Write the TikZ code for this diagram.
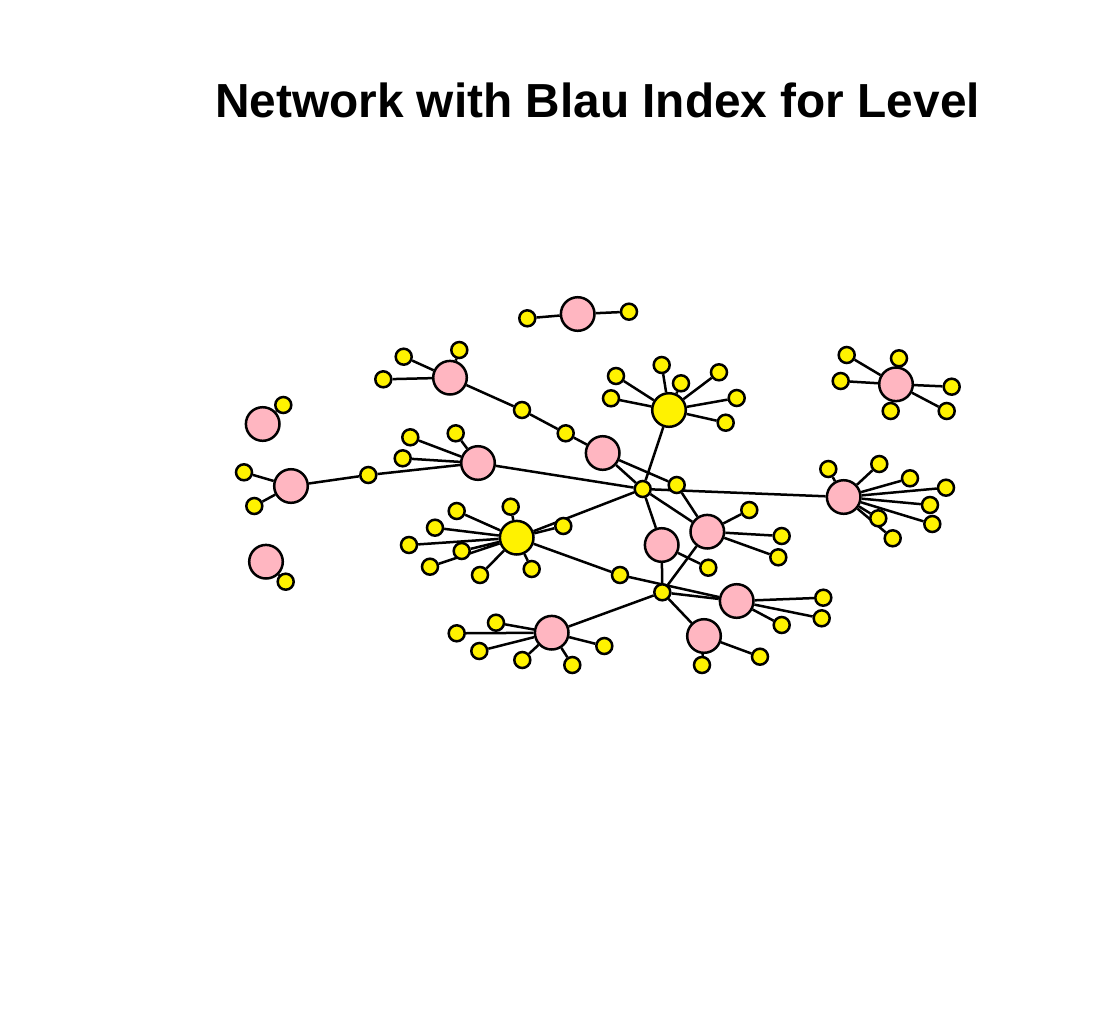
\documentclass[tikz,border=0pt]{standalone}
\usepackage{fontspec}
\setmainfont{Liberation Sans}
\usetikzlibrary{backgrounds}
\begin{document}
\begin{tikzpicture}[x=0.5pt,y=-0.5pt,
  edge/.style={line width=1.25pt},
  pk/.style={circle,draw,line width=1.25pt,fill=pinkc,minimum size=16.8pt,inner sep=0pt},
  yl/.style={circle,draw,line width=1.25pt,fill=yellow,minimum size=8pt,inner sep=0pt},
  yb/.style={circle,draw,line width=1.25pt,fill=yellow,minimum size=16.8pt,inner sep=0pt}]
\definecolor{pinkc}{HTML}{FFB6C1}
\useasboundingbox (0,0) rectangle (1100,1025);
\node[anchor=base,font=\bfseries\fontsize{23.9pt}{28pt}\selectfont] (title) at (597.5,117) {Network with Blau Index for Level};
% nodes
\foreach \n/\x/\y in {pA/262.7/424,pB/266/561.7,pC/291/486,pD/450/377.7,pE/478/463,pF/577.7/314,pG/602.7/453,pH/896/384.3,pI/843.7/497,pJ/707.3/531.7,pK/661.7/545,pL/736.7/601,pM/704/636,pN/551.7/632.7}
  \node[pk] (\n) at (\x,\y) {};
\foreach \n/\x/\y in {Y1/669/410,Y2/516.7/537.7}
  \node[yb] (\n) at (\x,\y) {};
\foreach \n/\x/\y in {yA1/283.3/405,yB1/285.7/581.7,yC1/244/472.3,yC2/254.3/506,yC3/368.3/475,
  yD1/403.7/356.7,yD2/459.3/350,yD3/383.3/379.3,yD4/522/410,yD5/565.7/433.3,
  yE1/410.3/437.3,yE2/455.7/433.3,yE3/402.7/458.3,yF1/527.3/318.3,yF2/629/311.7,yG1/676.7/485,
  a1/616/376,a2/661.7/365,a3/681/383.3,a4/719/372.3,a5/611/398.3,a6/736.7/398,a7/725.7/422.7,
  H1/642.7/489,H2/662.3/592.3,
  h1/846.7/355,h2/899/358.3,h3/840.7/381,h4/951.7/386.7,h5/890.7/411,h6/946.7/411,
  i1/828.3/469,i2/879.3/464,i3/910/478.3,i4/946/487.7,i5/930/505,i6/932.3/524,i7/878.3/518.3,i8/892.7/538.3,
  j1/749.3/510,j2/781.7/536,j3/778.3/557.3,k1/708.3/567.7,
  l1/823.3/597.7,l2/821.7/618.3,l3/781.7/625,m1/702/665,m2/760/656.7,
  n1/456.7/633.3,n2/496/622.7,n3/479.3/651,n4/522.3/660,n5/572.3/665,n6/604.3/646,
  b1/456.7/511,b2/510.7/506.7,b3/435/527.7,b4/409/545,b5/461.7/551,b6/430/566.7,b7/480/575,b8/531.7/569,b9/563.3/526,
  q/620/575}
  \node[yl] (\n) at (\x,\y) {};
% edges
\begin{pgfonlayer}{background}
\foreach \a/\b in {pA/yA1,pB/yB1,pC/yC1,pC/yC2,pC/yC3,yC3/pE,pD/yD1,pD/yD2,pD/yD3,pD/yD4,yD4/yD5,yD5/pG,
  pE/yE1,pE/yE2,pE/yE3,pE/H1,pF/yF1,pF/yF2,pG/H1,pG/yG1,yG1/pJ,
  Y1/a1,Y1/a2,Y1/a3,Y1/a4,Y1/a5,Y1/a6,Y1/a7,Y1/H1,
  pH/h1,pH/h2,pH/h3,pH/h4,pH/h5,pH/h6,
  pI/i1,pI/i2,pI/i3,pI/i4,pI/i5,pI/i6,pI/i7,pI/i8,
  H1/pI,H1/pJ,H1/pK,H1/Y2,pJ/j1,pJ/j2,pJ/j3,pJ/H2,pK/k1,pK/H2,
  pL/l1,pL/l2,pL/l3,H2/pL,q/pL,Y2/q,H2/pM,pM/m1,pM/m2,H2/pN,
  pN/n1,pN/n2,pN/n3,pN/n4,pN/n5,pN/n6,
  Y2/b1,Y2/b2,Y2/b3,Y2/b4,Y2/b5,Y2/b6,Y2/b7,Y2/b8,Y2/b9}
  \draw[edge] (\a) -- (\b);
\end{pgfonlayer}
\end{tikzpicture}
\end{document}
